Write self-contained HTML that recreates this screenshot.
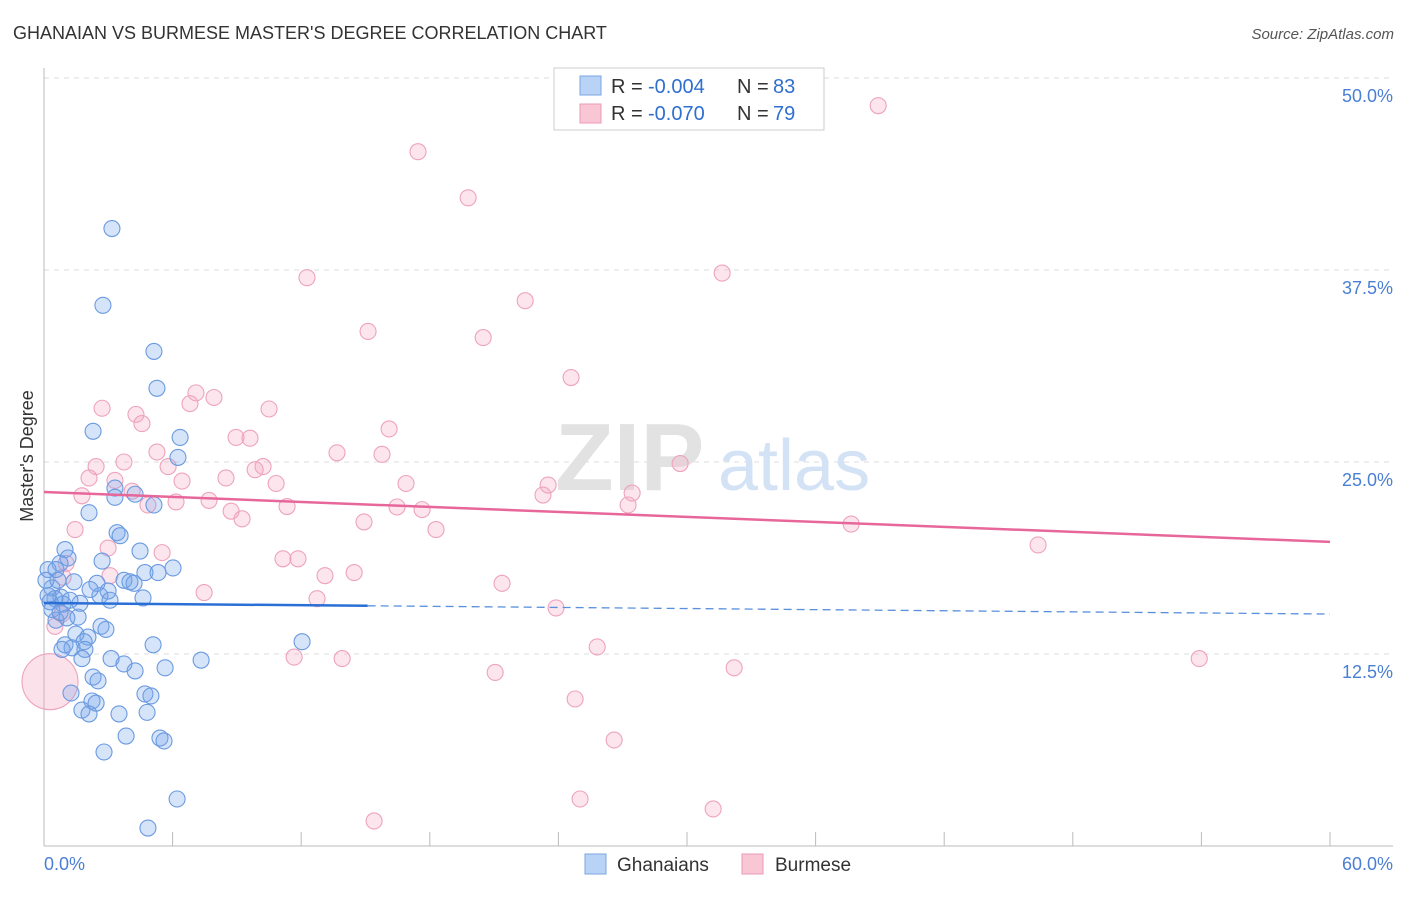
<!DOCTYPE html>
<html><head><meta charset="utf-8"><style>
body{margin:0;background:#fff;font-family:"Liberation Sans",sans-serif;}
svg text{font-family:"Liberation Sans",sans-serif;}
</style></head><body>
<svg id="chart" width="1406" height="892" viewBox="0 0 1406 892">
<text x="13" y="39" font-size="18" fill="#333">GHANAIAN VS BURMESE MASTER'S DEGREE CORRELATION CHART</text>
<text x="1394" y="39" font-size="15" fill="#555" font-style="italic" text-anchor="end">Source: ZipAtlas.com</text>
<g id="grid"></g>
<g>
<text x="555" y="490" font-size="96" font-family="Liberation Serif" fill="#e2e2e2" font-weight="bold">ZIP</text>
<text x="718" y="490" font-size="72" fill="#d3e2f5">atlas</text>
</g>
<line x1="44" y1="68" x2="44" y2="846" stroke="#bbb"/>
<line x1="44" y1="846" x2="1393" y2="846" stroke="#bbb"/>
<g id="xticks"></g>
<g id="ylabels"></g>
<text transform="translate(33,456) rotate(-90)" font-size="18" fill="#333" text-anchor="middle">Master's Degree</text>
<text x="44" y="870" font-size="18" fill="#4a7fd4">0.0%</text>
<text x="1393" y="870" font-size="18" fill="#4a7fd4" text-anchor="end">60.0%</text>
<g id="pink"></g>
<g id="blue"></g>
<g id="trends"></g>
<g>
<rect x="554" y="68" width="270" height="62" fill="#fff" stroke="#ccc"/>
<rect x="580" y="76" width="21" height="19" fill="#b8d3f5" stroke="#7ba6e3"/>
<rect x="580" y="104" width="21" height="19" fill="#f9c6d6" stroke="#eb9ab5"/>
<text x="611" y="93" font-size="20" fill="#333">R =</text>
<text x="648" y="93" font-size="20" fill="#2f6fd0">-0.004</text>
<text x="737" y="93" font-size="20" fill="#333">N =</text>
<text x="773" y="93" font-size="20" fill="#2f6fd0">83</text>
<text x="611" y="120" font-size="20" fill="#333">R =</text>
<text x="648" y="120" font-size="20" fill="#2f6fd0">-0.070</text>
<text x="737" y="120" font-size="20" fill="#333">N =</text>
<text x="773" y="120" font-size="20" fill="#2f6fd0">79</text>
</g>
<g>
<rect x="585" y="854" width="21" height="20" fill="#b8d3f5" stroke="#7ba6e3"/>
<text x="617" y="871" font-size="19" fill="#333">Ghanaians</text>
<rect x="742" y="854" width="21" height="20" fill="#f9c6d6" stroke="#eb9ab5"/>
<text x="775" y="871" font-size="19" fill="#333">Burmese</text>
</g>
</svg>
<script>
const yTicks=[12.5,25,37.5,50];
const yTickLabels=["12.5%","25.0%","37.5%","50.0%"];
const blueX=[3.17,2.75,5.13,5.27,2.29,6.35,6.25,3.31,4.25,3.31,5.13,2.10,3.41,3.55,0.98,4.48,1.12,0.75,0.19,2.71,6.02,4.71,5.32,3.73,4.20,1.40,2.47,0.37,2.99,2.61,0.79,0.51,4.62,1.68,0.89,0.28,1.59,0.56,1.07,2.66,2.89,1.49,2.05,1.87,0.98,1.31,5.09,12.04,0.84,1.91,3.13,3.73,5.65,7.33,1.77,4.25,2.29,2.52,1.26,4.71,4.99,2.24,2.43,1.77,2.10,3.50,4.81,5.41,5.60,3.83,2.80,6.21,4.85,0.56,0.37,0.19,0.65,4.01,1.21,2.15,0.09,0.75,3.08];
const blueY=[40.2,35.2,32.2,29.8,27.0,26.6,25.3,23.3,22.9,22.7,22.2,21.7,20.4,20.2,19.3,19.2,18.75,18.4,18.0,18.55,18.1,17.8,17.8,17.3,17.1,17.2,17.1,16.8,16.6,16.3,16.2,16.1,16.15,15.8,15.75,15.9,14.9,14.7,14.85,14.3,14.1,13.8,13.6,13.3,13.1,12.9,13.1,13.3,12.8,12.8,12.2,11.85,11.6,12.1,12.2,11.4,11.0,10.75,9.96,9.9,9.77,9.44,9.3,8.85,8.6,8.6,8.7,7.03,6.84,7.16,6.12,3.06,1.17,18.0,15.4,16.3,17.3,17.2,16.0,16.7,17.3,15.2,16.0];
const pinkX=[38.92,17.45,19.79,12.27,31.64,22.45,15.12,20.49,24.59,7.09,7.93,6.81,2.71,10.50,4.29,4.57,16.10,8.96,9.61,5.27,13.67,15.77,29.68,2.43,3.73,5.79,10.22,9.85,2.10,8.49,3.31,6.44,10.83,16.89,23.52,4.11,1.77,7.70,23.28,27.44,6.16,4.85,16.47,17.64,27.25,11.34,8.73,9.24,14.93,37.66,1.45,18.29,46.38,2.99,5.51,11.15,11.85,1.03,13.11,14.47,3.08,0.89,21.37,7.47,12.74,23.89,0.84,0.51,25.81,11.67,13.91,53.9,21.05,32.2,24.78,26.6,25.01,31.22,15.4];
const pinkY=[48.2,45.2,42.2,37.0,37.3,35.5,33.5,33.1,30.5,29.5,29.2,28.8,28.5,28.45,28.1,27.5,27.15,26.6,26.55,25.65,25.6,25.5,24.9,24.7,25.0,24.7,24.7,24.5,23.96,23.96,23.8,23.76,23.6,23.6,23.5,23.1,22.8,22.5,22.85,22.98,22.4,22.2,22.07,21.9,22.2,22.1,21.8,21.3,21.1,20.96,20.6,20.6,19.6,19.4,19.1,18.7,18.7,18.4,17.6,17.8,17.6,17.5,17.1,16.5,16.1,15.5,15.1,14.3,12.96,12.3,12.2,12.2,11.3,11.6,9.57,6.9,3.06,2.41,1.63];
const pinkBigX=[0.28];
const pinkBigY=[10.7];
const blueTrend=[15.82,15.1];
const blueSolidEnd=15.1;
const pinkTrend=[23.05,19.8];
const xMax=60;

const NS="http://www.w3.org/2000/svg";
const sx=v=>44+v*(1330-44)/xMax;
const sy=v=>846-v*(846-654)/12.5;
function mk(tag,attrs,parent){const e=document.createElementNS(NS,tag);for(const k in attrs)e.setAttribute(k,attrs[k]);parent.appendChild(e);return e;}
const grid=document.getElementById('grid'),yl=document.getElementById('ylabels'),xt=document.getElementById('xticks');
yTicks.forEach((t,i)=>{
  const l=mk('line',{x1:44,x2:1393,y1:sy(t),y2:sy(t),stroke:'#ddd','stroke-dasharray':'5,5'},grid);
  
  
  const tx=mk('text',{x:1393,y:sy(t)+24,'font-size':18,fill:'#4a7fd4','text-anchor':'end'},yl);
  tx.textContent=yTickLabels[i];
  
  
});
for(let i=1;i<=10;i++){
  const l=mk('line',{x1:sx(i*6),x2:sx(i*6),y1:832,y2:846,stroke:'#bbb'},xt);
  
  
}
const pg=document.getElementById('pink'),bg=document.getElementById('blue');
pinkX.forEach((x,i)=>{
  const c=mk('circle',{cx:sx(x),cy:sy(pinkY[i]),r:8,fill:'rgba(244,170,195,0.3)',stroke:'#eea3bc','stroke-width':1.1},pg);
  
  
});
pinkBigX.forEach((x,i)=>{
  const c=mk('circle',{cx:sx(x),cy:sy(pinkBigY[i]),r:28,fill:'rgba(244,170,195,0.35)',stroke:'#eea3bc','stroke-width':1.1},pg);
  
  
});
blueX.forEach((x,i)=>{
  const c=mk('circle',{cx:sx(x),cy:sy(blueY[i]),r:8,fill:'rgba(120,165,235,0.3)',stroke:'#6a9ae0','stroke-width':1.1},bg);
  
  
});
const tg=document.getElementById('trends');
const byAt=x=>blueTrend[0]+(blueTrend[1]-blueTrend[0])*x/xMax;
const bs=mk('line',{x1:sx(0),y1:sy(blueTrend[0]),x2:sx(blueSolidEnd),y2:sy(byAt(blueSolidEnd)),stroke:'#2a6fd6','stroke-width':2.5},tg);


const bd=mk('line',{x1:sx(blueSolidEnd),y1:sy(byAt(blueSolidEnd)),x2:sx(xMax),y2:sy(blueTrend[1]),stroke:'#5a8fde','stroke-width':1.3,'stroke-dasharray':'8,5'},tg);


const pl=mk('line',{x1:sx(0),y1:sy(pinkTrend[0]),x2:sx(xMax),y2:sy(pinkTrend[1]),stroke:'#e8679a','stroke-width':2.5},tg);


</script>
</body></html>
